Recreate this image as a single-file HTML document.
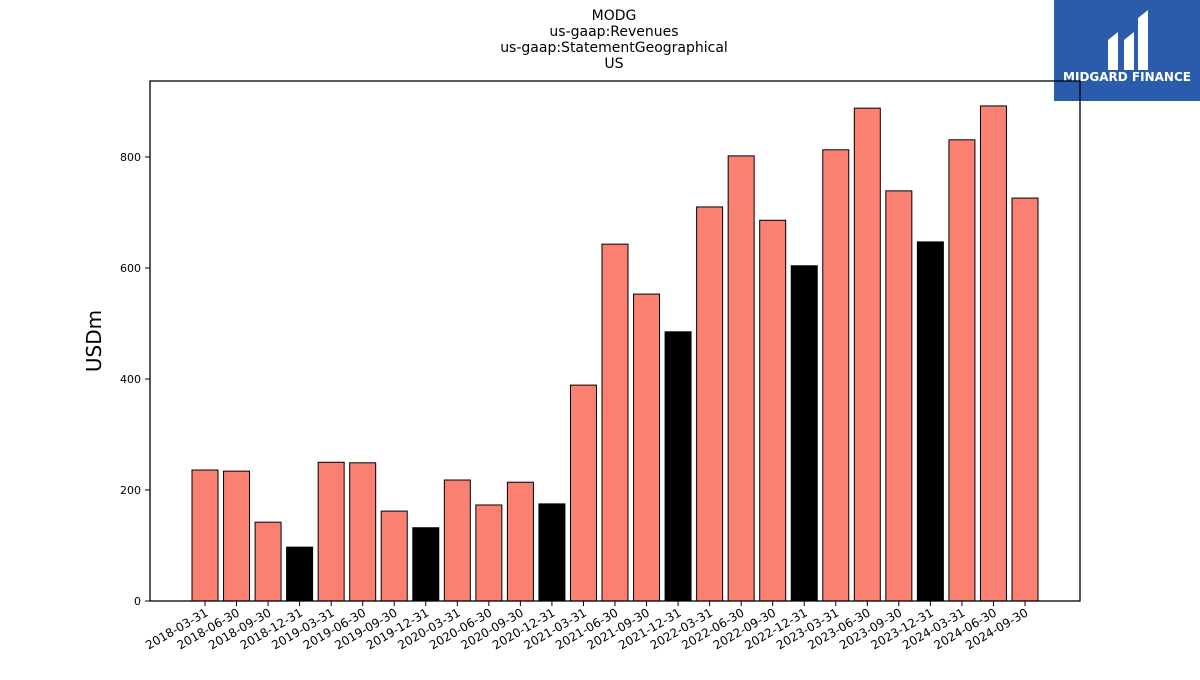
<!DOCTYPE html>
<html><head><meta charset="utf-8"><style>
body{margin:0;background:#fff;font-family:"Liberation Sans","DejaVu Sans",sans-serif}
</style></head><body>
<svg id="chart" width="1200" height="675" xmlns="http://www.w3.org/2000/svg" font-family="DejaVu Sans, Liberation Sans, sans-serif">
<g font-size="14" text-anchor="middle" fill="#000">
<text x="614" y="20">MODG</text>
<text x="614" y="36">us-gaap:Revenues</text>
<text x="614" y="52">us-gaap:StatementGeographical</text>
<text x="614" y="68">US</text>
</g>
<g>
<rect x="1054" y="0" width="146" height="101" fill="#2b5cab"/>
<path d="M1108 70 V40 L1118 32 V70 Z M1124 70 V40 L1134 32 V70 Z M1138 70 V18 L1148 10 V70 Z" fill="#fff"/>
<text x="1127" y="81" font-size="12" font-weight="bold" fill="#fff" text-anchor="middle">MIDGARD FINANCE</text>
</g>
<g id="bars"></g>
<g id="axes"></g>
<text x="101" y="341" font-size="20" text-anchor="middle" transform="rotate(-90 101 341)">USDm</text>
</svg>
<script>
const categories=["2018-03-31","2018-06-30","2018-09-30","2018-12-31","2019-03-31","2019-06-30","2019-09-30","2019-12-31","2020-03-31","2020-06-30","2020-09-30","2020-12-31","2021-03-31","2021-06-30","2021-09-30","2021-12-31","2022-03-31","2022-06-30","2022-09-30","2022-12-31","2023-03-31","2023-06-30","2023-09-30","2023-12-31","2024-03-31","2024-06-30","2024-09-30"];
const values=[236,234,142,97,250,249,162,132,218,173,214,175,389,643,553,485,710,802,686,604,813,888,739,647,831,892,726];
const yTicks=[0,200,400,600,800];
const NS="http://www.w3.org/2000/svg";
const plotLeft=150,plotRight=1080,plotTop=81,plotBottom=601;
const yScale=v=>plotBottom-v*(444/800);
const x0=205,step=(1025-205)/26,bw=26;
const xScale=i=>x0+i*step;
const barsG=document.getElementById('bars'),axesG=document.getElementById('axes');
function mk(t,a,p){const e=document.createElementNS(NS,t);for(const k in a)e.setAttribute(k,a[k]);p.appendChild(e);return e;}
values.forEach((v,i)=>{
 const r=mk('rect',{x:xScale(i)-bw/2,y:yScale(v),width:bw,height:plotBottom-yScale(v),fill:categories[i].endsWith('12-31')?'#000':'#fa8072',stroke:'#000','stroke-width':1},barsG);
 
 
 const t=mk('line',{x1:xScale(i),x2:xScale(i),y1:plotBottom,y2:plotBottom+5,stroke:'#000'},axesG);
 
 
 const l=mk('text',{x:xScale(i)+4,y:plotBottom+14,'font-size':12,'text-anchor':'end',transform:`rotate(-30 ${xScale(i)+4} ${plotBottom+14})`},axesG);
 l.textContent=categories[i];
 
 
});
yTicks.forEach(v=>{
 const t=mk('line',{x1:plotLeft-5,x2:plotLeft,y1:yScale(v),y2:yScale(v),stroke:'#000'},axesG);
 
 
 const l=mk('text',{x:plotLeft-9,y:yScale(v)+4,'font-size':11,'text-anchor':'end'},axesG);
 l.textContent=v;
 
 
});
const f=mk('rect',{x:plotLeft,y:plotTop,width:plotRight-plotLeft,height:plotBottom-plotTop,fill:'none',stroke:'#000','stroke-width':1.3},axesG);


</script>
</body></html>
